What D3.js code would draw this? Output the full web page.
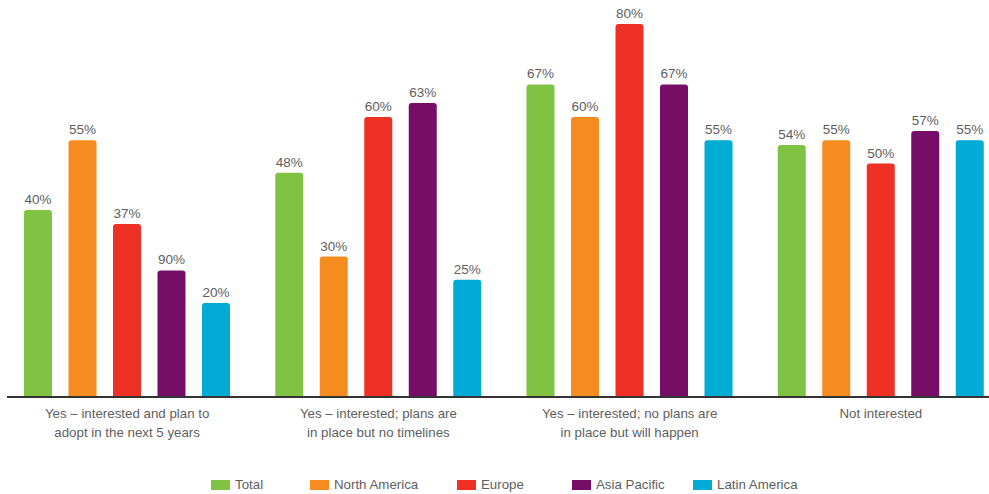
<!DOCTYPE html>
<html>
<head>
<meta charset="utf-8">
<script src="https://cdn.jsdelivr.net/npm/d3@7"></script>
<style>
  body { margin: 0; background: #fff; }
  text { font-family: "Liberation Sans", Arial, sans-serif; fill: #5e5e5e; }
</style>
</head>
<body>
<svg id="chart" width="989" height="494"></svg>
<script>
// categories on the x axis (each label split into lines)
const categories = [
    ["Yes – interested and plan to", "adopt in the next 5 years"],
    ["Yes – interested; plans are", "in place but no timelines"],
    ["Yes – interested; no plans are", "in place but will happen"],
    ["Not interested"]
];
const regions = ["Total", "North America", "Europe", "Asia Pacific", "Latin America"];
const colors = ["#80c342", "#f68b1f", "#ee3124", "#760e68", "#00abd5"];

// bar heights per region, one value per category
const total = [40, 48, 67, 54];
const northAmerica = [55, 30, 60, 55];
const europe = [37, 60, 80, 50];
const asiaPacific = [27, 63, 67, 57];
const latinAmerica = [20, 25, 55, 55];

// printed value labels (as shown in the source, including its "90%")
const totalLabels = ["40%", "48%", "67%", "54%"];
const northAmericaLabels = ["55%", "30%", "60%", "55%"];
const europeLabels = ["37%", "60%", "80%", "50%"];
const asiaPacificLabels = ["90%", "63%", "67%", "57%"];
const latinAmericaLabels = ["20%", "25%", "55%", "55%"];

const series = [total, northAmerica, europe, asiaPacific, latinAmerica];
const seriesLabels = [totalLabels, northAmericaLabels, europeLabels, asiaPacificLabels, latinAmericaLabels];

const svg = d3.select("#chart");
const baseline = 396;

// outer scale for category groups
const x0 = d3.scaleBand()
    .domain(d3.range(categories.length))
    .range([1.5, 1006.5])
    .padding(0);

// inner scale for regions inside a group: step 44.5, bar width 28
const x1 = d3.scaleBand()
    .domain(regions)
    .range([22.5, 22.5 + 44.5 * 5 - 16.5])
    .paddingInner(16.5 / 44.5)
    .paddingOuter(0);

const y = d3.scaleLinear().domain([0, 80]).range([baseline, 24]);

// flatten data into one record per bar
const bars = [];
categories.forEach((c, ci) => {
    regions.forEach((r, ri) => {
        bars.push({ ci, ri, region: r, value: series[ri][ci], label: seriesLabels[ri][ci] });
    });
});

// bar path with slightly rounded top corners
function barPath(d) {
    const bx = x0(d.ci) + x1(d.region);
    const w = x1.bandwidth();
    const top = y(d.value);
    const r = 3;
    return `M${bx},${baseline}V${top + r}Q${bx},${top} ${bx + r},${top}H${bx + w - r}Q${bx + w},${top} ${bx + w},${top + r}V${baseline}Z`;
}

const g = svg.append("g");

g.selectAll("path.bar")
    .data(bars)
    .enter()
    .append("path")
    .attr("class", "bar")
    .attr("d", barPath)
    .attr("fill", (d) => colors[d.ri]);

g.selectAll("text.value")
    .data(bars)
    .enter()
    .append("text")
    .attr("class", "value")
    .attr("x", (d) => x0(d.ci) + x1(d.region) + x1.bandwidth() / 2)
    .attr("y", (d) => y(d.value) - 6)
    .attr("text-anchor", "middle")
    .style("font-size", "13.5px")
    .text((d) => d.label);

// baseline axis
svg.append("line")
    .attr("x1", 7)
    .attr("x2", 989)
    .attr("y1", baseline + 1)
    .attr("y2", baseline + 1)
    .attr("stroke", "#333")
    .attr("stroke-width", 2);

// category labels
const catLabels = svg.selectAll("text.cat")
    .data(categories)
    .enter()
    .append("text")
    .attr("class", "cat")
    .attr("text-anchor", "middle")
    .style("font-size", "13.3px")
    .attr("x", (d, i) => x0(i) + x0.bandwidth() / 2)
    .attr("y", 418);

catLabels.selectAll("tspan")
    .data((d) => d)
    .enter()
    .append("tspan")
    .attr("x", function () { return d3.select(this.parentNode).attr("x"); })
    .attr("dy", (d, i) => (i === 0 ? 0 : 18.5))
    .text((d) => d);

// legend
const legendX = [211, 310, 457, 572, 693];
const legend = svg.append("g");
regions.forEach((r, i) => {
    legend.append("rect")
        .attr("x", legendX[i])
        .attr("y", 480)
        .attr("width", 19)
        .attr("height", 10)
        .attr("fill", colors[i]);
    legend.append("text")
        .attr("x", legendX[i] + 24)
        .attr("y", 489)
        .style("font-size", "13.3px")
        .text(r);
});
</script>
</body>
</html>
